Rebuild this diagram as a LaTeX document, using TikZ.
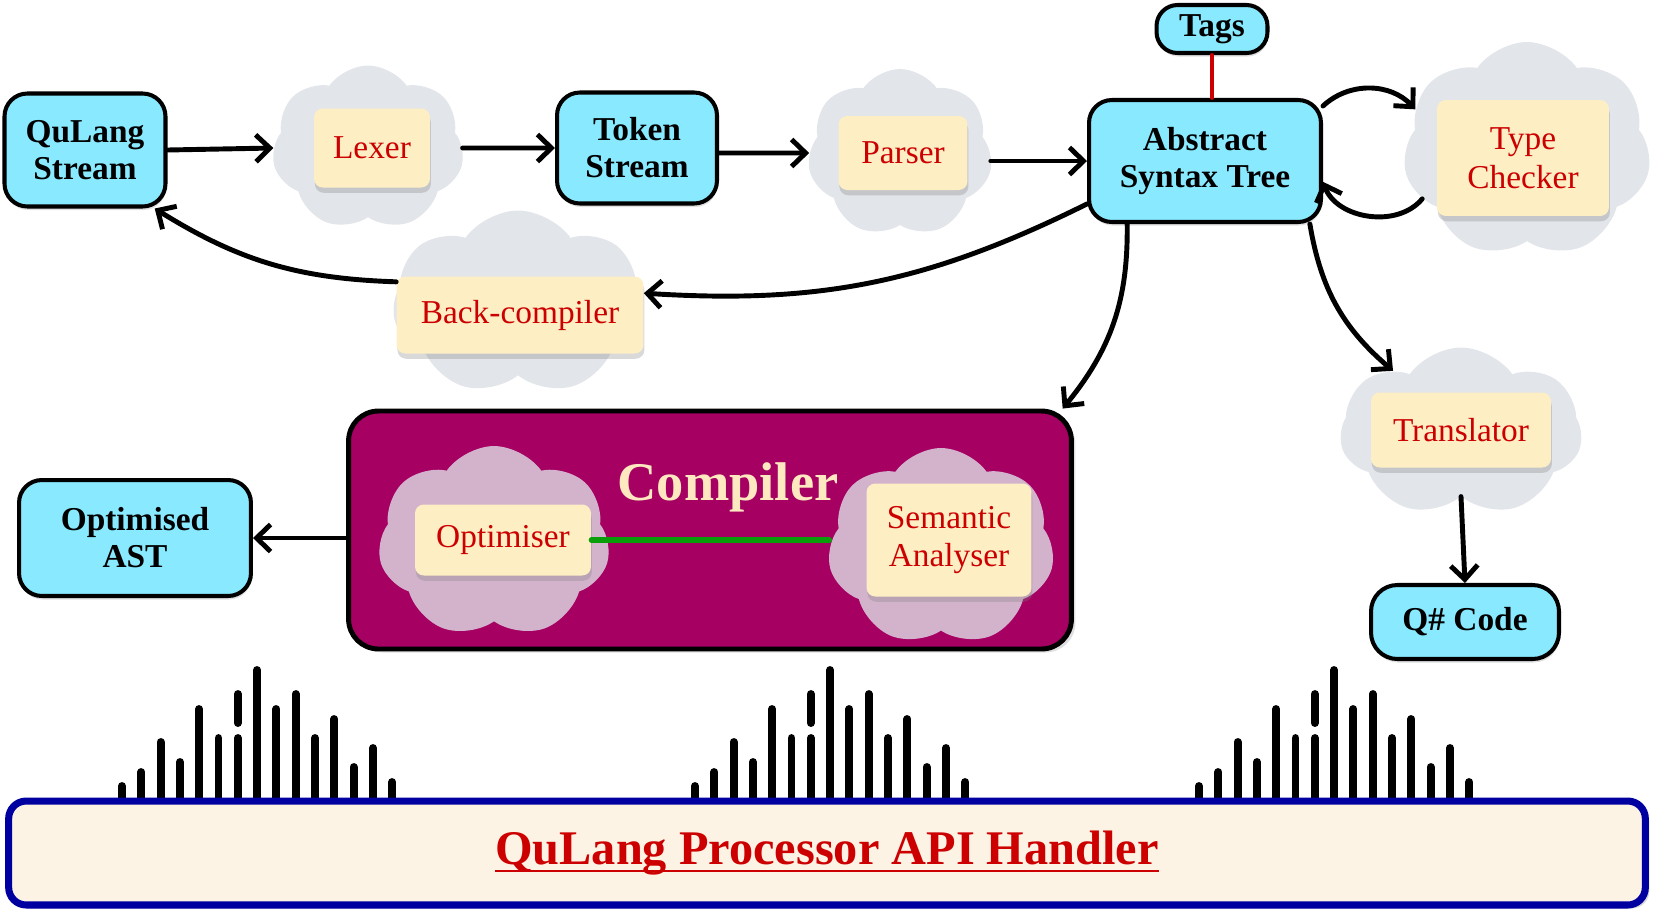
\documentclass[tikz,border=0pt]{standalone}
\usepackage{fontspec}
\setmainfont{Liberation Serif}
\usetikzlibrary{shapes.symbols,shadows,arrows.meta}
\definecolor{boxblue}{HTML}{89EAFF}
\definecolor{cloudgrey}{HTML}{E2E5E9}
\definecolor{boxyellow}{HTML}{FDEEC4}
\definecolor{textred}{HTML}{CC0000}
\definecolor{compurple}{HTML}{A50062}
\definecolor{cloudpink}{HTML}{D3B3CC}
\definecolor{comptext}{HTML}{FDE8C0}
\definecolor{apiblue}{HTML}{0000A0}
\definecolor{apifill}{HTML}{FDF3E4}
\definecolor{linkgreen}{HTML}{0A9F0A}
\newcommand{\thickul}[1]{\setbox0\hbox{#1}\rlap{\rule[-4.5pt]{\wd0}{1.6pt}}\box0}

\begin{document}
\begin{tikzpicture}[x=0.02cm, y=-0.02cm, >={Straight Barb[length=2.8mm,width=5.4mm]}, line cap=round,
    blue node/.style={rectangle, rounded corners=13pt, draw, line width=2.3pt, fill=boxblue, inner sep=0pt, align=center,
        font=\fontsize{19}{21}\selectfont\bfseries, drop shadow={opacity=0.25, shadow xshift=0.5pt, shadow yshift=-2pt}},
    yellow node/.style={rectangle, rounded corners=5pt, fill=boxyellow, inner sep=0pt, align=center, text=textred,
        font=\fontsize{19}{22}\selectfont, drop shadow={opacity=0.3, shadow xshift=0.5pt, shadow yshift=-3pt}},
    cloud node/.style={cloud, cloud puffs=7, cloud puff arc=110, cloud ignores aspect, fill=cloudgrey, inner sep=0pt},
    arr/.style={->, line width=2.8pt},
    bar/.style={line width=4.5pt}]
    \useasboundingbox (0,0) rectangle (1654,914);

    % compiler block
    \node[rectangle, rounded corners=17pt, draw, line width=2.8pt, fill=compurple, minimum width=14.46cm, minimum height=4.76cm,
        drop shadow={opacity=0.25, shadow yshift=-2pt}] (comp) at (710,530) {};
    \node[text=comptext, font=\fontsize{31}{31}\selectfont\bfseries] (comptitle) at (728,487) {Compiler};

    % clouds
    \node[cloud node, minimum width=3.84cm, minimum height=3.30cm] (lexcl) at (368,148) {};
    \node[cloud node, minimum width=3.70cm, minimum height=3.36cm] (parcl) at (900,153) {};
    \node[cloud node, minimum width=4.96cm, minimum height=4.32cm] (tcc) at (1527,150) {};
    \node[cloud node, minimum width=5.02cm, minimum height=3.70cm] (bccl) at (518,303) {};
    \node[cloud node, minimum width=4.84cm, minimum height=3.38cm] (trcl) at (1461,432) {};
    \node[cloud node, fill=cloudpink, minimum width=4.64cm, minimum height=3.84cm] (optcl) at (494,542) {};
    \node[cloud node, fill=cloudpink, minimum width=4.54cm, minimum height=3.96cm] (semcl) at (941,547) {};

    % processing steps
    \node[yellow node, minimum width=2.32cm, minimum height=1.58cm] (lex) at (372,148) {Lexer};
    \node[yellow node, minimum width=2.58cm, minimum height=1.48cm] (par) at (903,153) {Parser};
    \node[yellow node, minimum width=3.44cm, minimum height=2.32cm] (tc) at (1523,158) {Type\\Checker};
    \node[yellow node, minimum width=4.94cm, minimum height=1.54cm] (bc) at (520,315) {Back-compiler};
    \node[yellow node, minimum width=3.60cm, minimum height=1.50cm] (tr) at (1461,430) {Translator};
    \node[yellow node, minimum width=3.52cm, minimum height=1.42cm] (opt) at (503,540) {Optimiser};
    \node[yellow node, minimum width=3.30cm, minimum height=2.26cm] (sem) at (949,540) {Semantic\\Analyser};

    % data
    \node[blue node, minimum width=3.22cm, minimum height=2.26cm] (qs) at (85,150) {QuLang\\Stream};
    \node[blue node, minimum width=3.20cm, minimum height=2.22cm] (ts) at (637,148) {Token\\Stream};
    \node[blue node, minimum width=4.64cm, minimum height=2.44cm] (ast) at (1205,161) {Abstract\\Syntax Tree};
    \node[blue node, rounded corners=12pt, minimum width=2.22cm, minimum height=0.96cm] (tags) at (1212,29) {Tags};
    \node[blue node, minimum width=4.64cm, minimum height=2.32cm] (oast) at (135,538) {Optimised\\AST};
    \node[blue node, rounded corners=15pt, minimum width=3.76cm, minimum height=1.48cm] (qc) at (1465,622) {Q\# Code};

    % signal bars
    \foreach \gx in {122,695,1199}{
        \foreach \h [count=\i from 0] in {786,772,742,762,709,738,738,670,709,694,738,719,767,748,782}
            \draw[bar] (\gx+19.3*\i,808) -- (\gx+19.3*\i,\h);
        \draw[bar] (\gx+19.3*6,723) -- (\gx+19.3*6,694);
    }

    % api handler
    \node[rectangle, rounded corners=10pt, draw=apiblue, line width=4pt, fill=apifill, minimum width=32.74cm, minimum height=2.08cm,
        text=textred, font=\fontsize{27.5}{30}\selectfont\bfseries, drop shadow={opacity=0.3, shadow yshift=-2pt}]
        (api) at (827,853) {\thickul{QuLang Processor API Handler}};

    \path[arr]
    (qs.east) edge (lexcl.west)
    (lexcl.east) edge (ts.west)
    (ts.east |- parcl) edge (parcl.west)
    (parcl.east |- ast) edge (ast.west)
    (ast.25) edge[bend left=45] (tcc.160)
    (tcc.205) edge[bend left=60] (ast.-10)
    (ast.200) edge[bend left=15] (bc.10)
    (bc.165) edge[bend left=15] (qs.-40)
    (ast.-141) edge[bend left=20] (comp.19)
    (ast.-31) edge[bend right=20] (trcl.138)
    (trcl.south) edge (qc.north)
    (comp.west |- oast) edge (oast.east);
    \draw[textred, line width=2.2pt] (tags.south) -- (tags.south |- ast.north);
    \draw[linkgreen, line width=3pt] (opt.east) -- (opt.east -| semcl.west);
\end{tikzpicture}
\end{document}
